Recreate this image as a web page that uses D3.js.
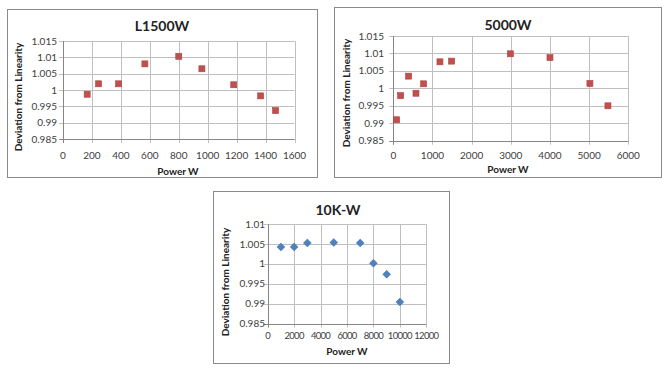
<!DOCTYPE html>
<html><head><meta charset="utf-8">
<script src="https://cdn.jsdelivr.net/npm/d3@7"></script>
<style>
html,body{margin:0;padding:0;background:#fff;}
svg{display:block;font-family:Lato,"Open Sans","Liberation Sans",sans-serif;}
</style></head>
<body>
<svg id="c" width="666" height="370"></svg>
<script>
// ---- data ----
const l1500Power = [167, 246, 384, 566, 800, 960, 1180, 1366, 1469];
const l1500Dev   = [0.9987, 1.0019, 1.0019, 1.0080, 1.0103, 1.0065, 1.0016, 0.9982, 0.9937];
const w5000Power = [85, 187, 391, 579, 774, 1191, 1489, 2990, 4000, 5020, 5480];
const w5000Dev   = [0.9910, 0.9979, 1.0035, 0.9986, 1.0013, 1.0076, 1.0078, 1.0099, 1.0088, 1.0014, 0.9950];
const k10Power   = [1000, 2000, 3000, 5000, 7000, 8000, 9000, 10000];
const k10Dev     = [1.0043, 1.0043, 1.0053, 1.0054, 1.0053, 1.0002, 0.9974, 0.9904];
const titles     = ["L1500W", "5000W", "10K-W"];
const xTicks1 = [0, 200, 400, 600, 800, 1000, 1200, 1400, 1600];
const xTicks2 = [0, 1000, 2000, 3000, 4000, 5000, 6000];
const xTicks3 = [0, 2000, 4000, 6000, 8000, 10000, 12000];
const yTicks1 = [0.985, 0.99, 0.995, 1, 1.005, 1.01, 1.015];
const yTicks3 = [0.985, 0.99, 0.995, 1, 1.005, 1.01];
const xTitle = "Power W";
const yTitle = "Deviation from Linearity";

const svg = d3.select("#c");
const panels = [
  {box:[7,9,317,177], x0:63, x1:294.5, yTop:41, yBot:139, xd:[0,1600], yd:[0.985,1.015], xt:xTicks1, yt:yTicks1,
   xs:l1500Power, ys:l1500Dev, title:titles[0], tx:162, ty:26, ylx:18, yly:97, xlx:178, xly:171, tickY:155, ylabX:57, mark:"square", xfs:10, xls:0},
  {box:[334,7,661,177], x0:393.3, x1:628.3, yTop:36, yBot:140.7, xd:[0,6000], yd:[0.985,1.015], xt:xTicks2, yt:yTicks1,
   xs:w5000Power, ys:w5000Dev, title:titles[1], tx:508, ty:25, ylx:346, yly:93, xlx:508, xly:169, tickY:155, ylabX:384, mark:"square", xfs:10, xls:0},
  {box:[213,191,449,363], x0:267.7, x1:426.3, yTop:224.3, yBot:323.5, xd:[0,12000], yd:[0.985,1.01], xt:xTicks3, yt:yTicks3,
   xs:k10Power, ys:k10Dev, title:titles[2], tx:338, ty:210, ylx:225, yly:282, xlx:347, xly:351, tickY:336, ylabX:265, mark:"diamond", xfs:9.5, xls:-0.7}
];

panels.forEach(p => {
  const g = svg.append("g");
  const [bx0,by0,bx1,by1] = p.box;
  g.append("rect").attr("x",bx0+0.5).attr("y",by0+0.5).attr("width",bx1-bx0).attr("height",by1-by0)
    .attr("fill","#fff").attr("stroke","#8a8a8a").attr("stroke-width",1);
  const x = d3.scaleLinear().domain(p.xd).range([p.x0,p.x1]);
  const y = d3.scaleLinear().domain(p.yd).range([p.yBot,p.yTop]);
  // gridlines
  g.append("g").selectAll("line.h").data(p.yt).join("line")
    .attr("x1",p.x0-4).attr("x2",p.x1).attr("y1",d=>Math.round(y(d))+0.5).attr("y2",d=>Math.round(y(d))+0.5)
    .attr("stroke","#bfbfbf").attr("stroke-width",1);
  g.append("g").selectAll("line.v").data(p.xt).join("line")
    .attr("x1",d=>Math.round(x(d))+0.5).attr("x2",d=>Math.round(x(d))+0.5).attr("y1",p.yTop).attr("y2",p.yBot+4)
    .attr("stroke","#bfbfbf").attr("stroke-width",1);
  // axes lines
  g.append("line").attr("x1",Math.round(p.x0)+0.5).attr("x2",Math.round(p.x0)+0.5).attr("y1",p.yTop).attr("y2",p.yBot+4)
    .attr("stroke","#868686");
  g.append("line").attr("x1",p.x0-4).attr("x2",p.x1).attr("y1",Math.round(p.yBot)+0.5).attr("y2",Math.round(p.yBot)+0.5)
    .attr("stroke","#868686");
  // tick labels
  g.append("g").selectAll("text").data(p.yt).join("text")
    .attr("x",p.ylabX).attr("y",d=>y(d)).attr("dy","0.35em").attr("text-anchor","end")
    .attr("font-size",10).attr("fill","#404040").text(d=>String(d));
  g.append("g").selectAll("text").data(p.xt).join("text")
    .attr("x",d=>x(d)).attr("y",p.tickY).attr("dy","0.35em").attr("text-anchor","middle")
    .attr("font-size",p.xfs).attr("letter-spacing",p.xls).attr("fill","#404040").text(d=>String(d));
  // titles
  g.append("text").attr("x",p.tx).attr("y",p.ty).attr("dy","0.35em").attr("text-anchor","middle")
    .attr("font-size",14).attr("font-weight","bold").attr("fill","#222").text(p.title);
  g.append("text").attr("x",p.xlx).attr("y",p.xly).attr("dy","0.35em").attr("text-anchor","middle")
    .attr("font-size",10).attr("font-weight","bold").attr("fill","#222").text(xTitle);
  g.append("text").attr("transform",`translate(${p.ylx},${p.yly}) rotate(-90)`).attr("dy","0.35em").attr("text-anchor","middle")
    .attr("font-size",10).attr("font-weight","bold").attr("fill","#222").text(yTitle);
  // markers
  const pts = p.xs.map((v,i)=>[v,p.ys[i]]);
  if (p.mark === "square") {
    g.append("g").selectAll("rect").data(pts).join("rect")
      .attr("x",d=>x(d[0])-3).attr("y",d=>y(d[1])-3).attr("width",6).attr("height",6)
      .attr("fill","#c0504d").attr("stroke","#b0403d").attr("stroke-width",0.6);
  } else {
    const sym = d3.symbol().type(d3.symbolDiamond2).size(40);
    g.append("g").selectAll("path").data(pts).join("path")
      .attr("transform",d=>`translate(${x(d[0])},${y(d[1])})`).attr("d",sym)
      .attr("fill","#4f81bd").attr("stroke","#3f71ad").attr("stroke-width",0.5);
  }
});
</script>
</body></html>
